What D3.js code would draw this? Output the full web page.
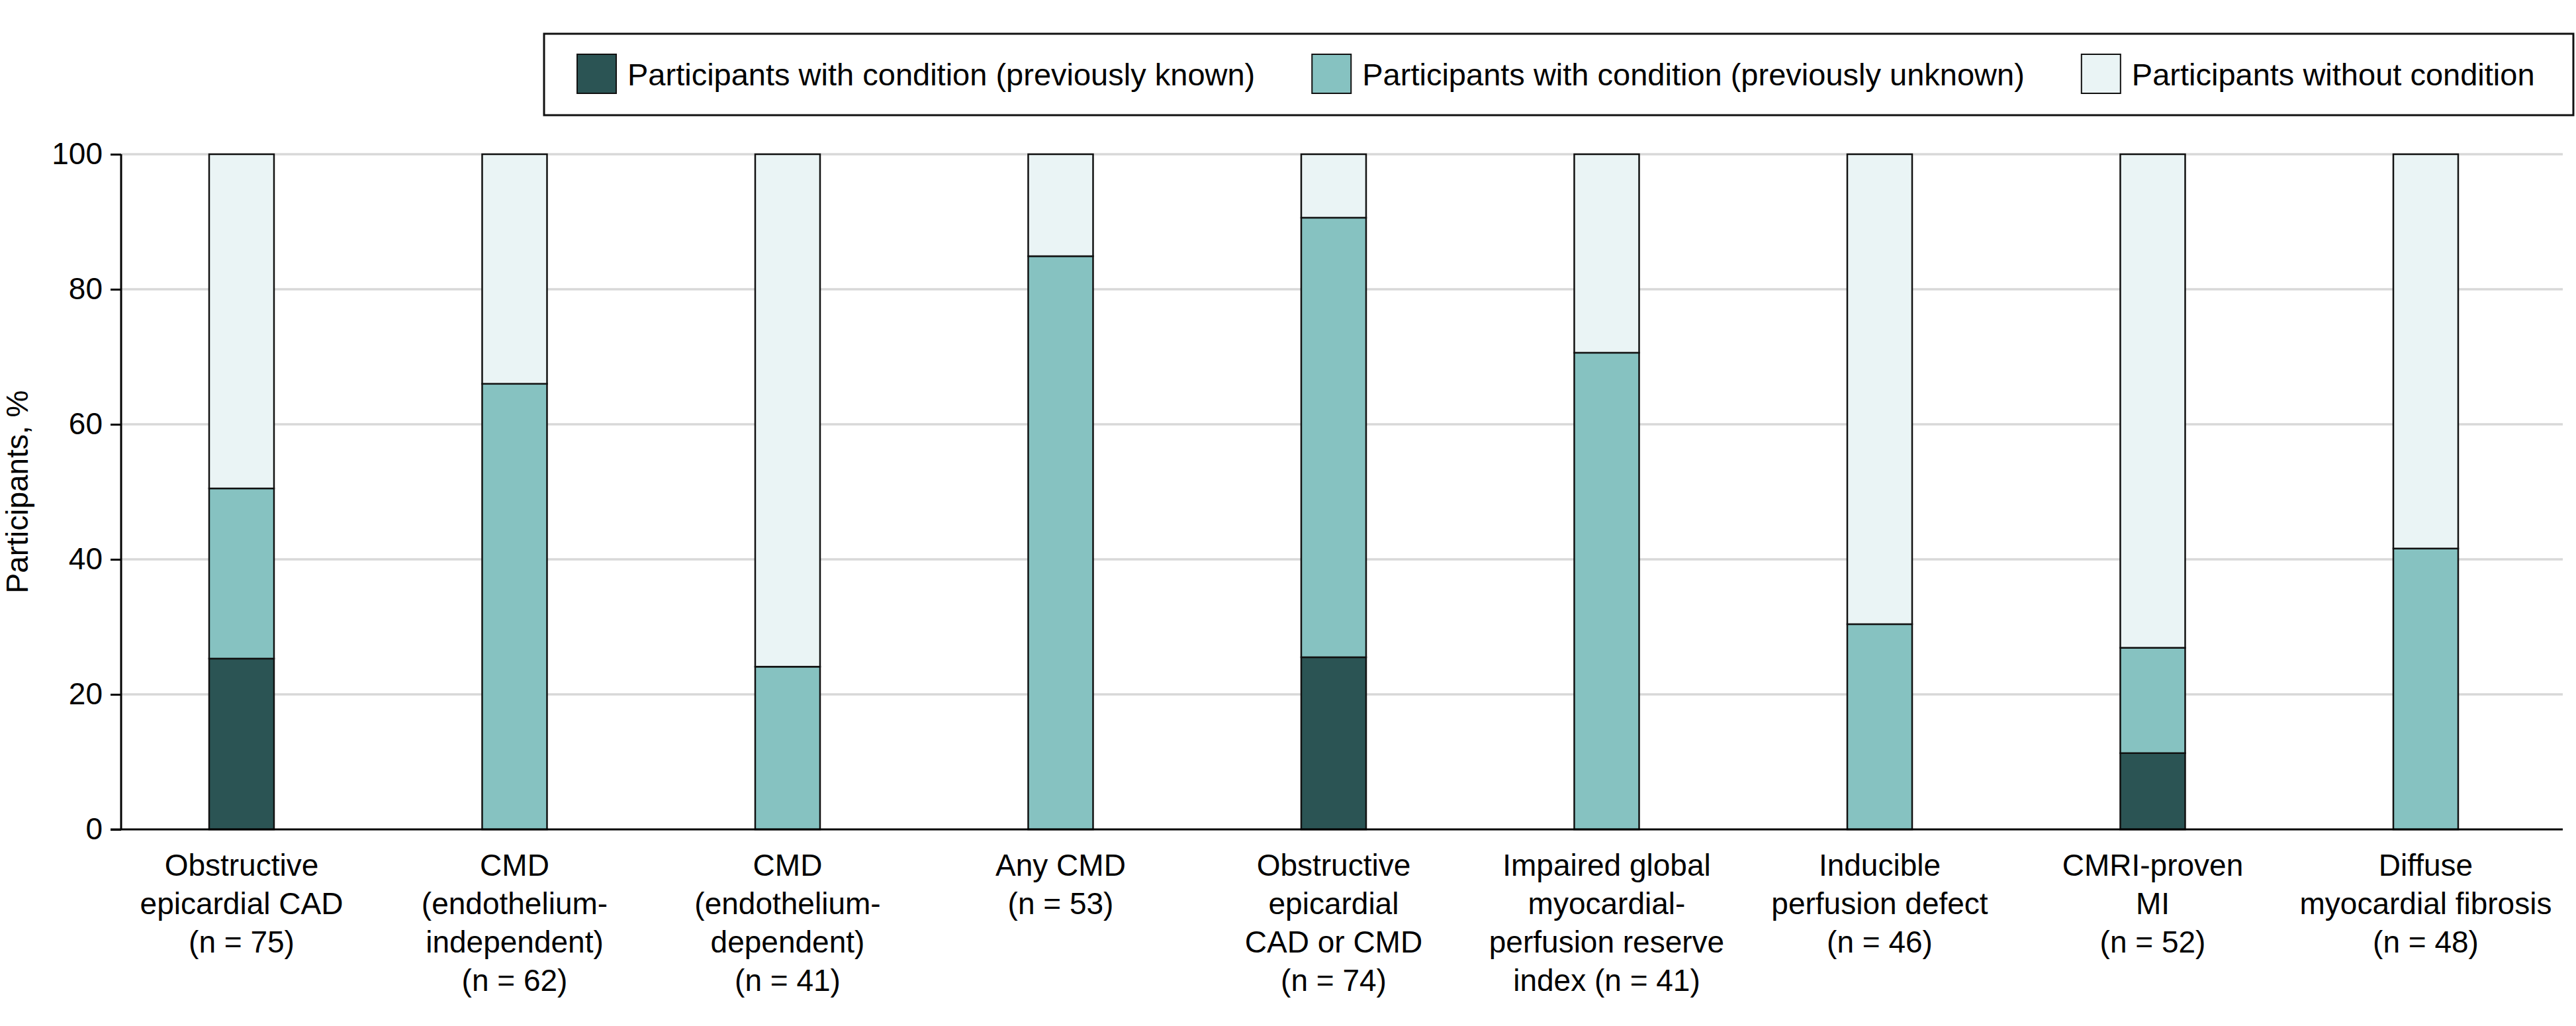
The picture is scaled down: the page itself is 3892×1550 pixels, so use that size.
<!DOCTYPE html>
<html>
<head>
<meta charset="utf-8">
<script src="https://cdn.jsdelivr.net/npm/d3@7"></script>
<style>
  html, body { margin: 0; padding: 0; background: #ffffff; }
  svg { display: block; }
  text { font-family: "Liberation Sans", Arial, sans-serif; fill: #000; }
</style>
</head>
<body>
<svg id="chart" width="3892" height="1550"></svg>
<script>
// ---------------- DATA ----------------
const categories = [
  ["Obstructive", "epicardial CAD", "(n = 75)"],
  ["CMD", "(endothelium-", "independent)", "(n = 62)"],
  ["CMD", "(endothelium-", "dependent)", "(n = 41)"],
  ["Any CMD", "(n = 53)"],
  ["Obstructive", "epicardial", "CAD or CMD", "(n = 74)"],
  ["Impaired global", "myocardial-", "perfusion reserve", "index (n = 41)"],
  ["Inducible", "perfusion defect", "(n = 46)"],
  ["CMRI-proven", "MI", "(n = 52)"],
  ["Diffuse", "myocardial fibrosis", "(n = 48)"]
];
const knownValues   = [25.3, 0, 0, 0, 25.5, 0, 0, 11.3, 0];
const unknownValues = [25.2, 66.0, 24.1, 84.9, 65.1, 70.6, 30.4, 15.6, 41.6];
const withoutValues = [49.5, 34.0, 75.9, 15.1, 9.4, 29.4, 69.6, 73.1, 58.4];
const seriesNames = [
  "Participants with condition (previously known)",
  "Participants with condition (previously unknown)",
  "Participants without condition"
];
const seriesColors = ["#2b5454", "#86c2c1", "#eaf4f5"];
const yTicks = [0, 20, 40, 60, 80, 100];
const yLabel = "Participants, %";

// ---------------- LAYOUT ----------------
const svg = d3.select("#chart");
const plotLeft = 183, plotRight = 3872, plotTop = 233, plotBottom = 1253;
const fontSize = 46;

const ids = categories.map((c, i) => "c" + i);
const x = d3.scaleBand()
  .domain(ids)
  .range([plotLeft, plotRight])
  .paddingInner(0.7624)
  .paddingOuter(0.3527)
  .align(0.457);
const y = d3.scaleLinear().domain([0, 100]).range([plotBottom, plotTop]);

// gridlines
svg.append("g")
  .selectAll("line")
  .data(yTicks.filter(t => t > 0))
  .join("line")
  .attr("x1", plotLeft).attr("x2", plotRight)
  .attr("y1", d => y(d)).attr("y2", d => y(d))
  .attr("stroke", "#d8d8d8")
  .attr("stroke-width", 3.5);

// stacked data
const rows = ids.map((id, i) => ({
  id, known: knownValues[i], unknown: unknownValues[i], without: withoutValues[i]
}));
const keys = ["known", "unknown", "without"];
const stacked = d3.stack().keys(keys)(rows);

const gBars = svg.append("g");
stacked.forEach((layer, li) => {
  gBars.append("g")
    .selectAll("rect")
    .data(layer.filter(d => d[1] - d[0] > 0))
    .join("rect")
    .attr("x", d => x(d.data.id))
    .attr("width", x.bandwidth())
    .attr("y", d => y(d[1]))
    .attr("height", d => y(d[0]) - y(d[1]))
    .attr("fill", seriesColors[li])
    .attr("stroke", "#111")
    .attr("stroke-width", 2.5);
});

// y axis
const yAxis = d3.axisLeft(y).tickValues(yTicks).tickSize(16).tickPadding(12).tickFormat(d3.format("d"));
const gy = svg.append("g").attr("transform", `translate(${plotLeft},0)`).call(yAxis);
gy.select(".domain").attr("stroke", "#000").attr("stroke-width", 3).attr("d", `M0,${plotTop}V${plotBottom}`);
gy.selectAll(".tick line").attr("stroke", "#000").attr("stroke-width", 3);
gy.selectAll(".tick text").style("font-size", fontSize + "px").style("font-family", '"Liberation Sans", Arial, sans-serif').attr("fill", "#000");

// baseline
svg.append("line")
  .attr("x1", plotLeft - 16).attr("x2", plotRight)
  .attr("y1", y(0)).attr("y2", y(0))
  .attr("stroke", "#000").attr("stroke-width", 3);

// y label
svg.append("text")
  .attr("transform", `translate(42,${(plotTop + plotBottom) / 2}) rotate(-90)`)
  .attr("text-anchor", "middle")
  .style("font-size", fontSize + "px")
  .text(yLabel);

// x labels
const lineH = 58;
const gx = svg.append("g");
categories.forEach((lines, i) => {
  const cxl = x(ids[i]) + x.bandwidth() / 2;
  const t = gx.append("text")
    .attr("text-anchor", "middle")
    .style("font-size", fontSize + "px")
    .attr("x", cxl)
    .attr("y", 1323);
  lines.forEach((ln, j) => {
    t.append("tspan")
      .attr("x", cxl)
      .attr("y", 1323 + j * lineH)
      .text(ln);
  });
});

// legend
const legX = 822, legY = 51, legW = 3066, legH = 123;
svg.append("rect")
  .attr("x", legX).attr("y", legY).attr("width", legW).attr("height", legH)
  .attr("fill", "#fff").attr("stroke", "#111").attr("stroke-width", 3);
const legFont = 47;
let lx = 872;
seriesNames.forEach((name, i) => {
  svg.append("rect")
    .attr("x", lx).attr("y", 82).attr("width", 59).attr("height", 59)
    .attr("fill", seriesColors[i]).attr("stroke", "#111").attr("stroke-width", 2);
  const t = svg.append("text")
    .attr("x", lx + 59 + 17).attr("y", 129)
    .style("font-size", legFont + "px")
    .text(name);
  lx = lx + 59 + 17 + t.node().getComputedTextLength() + 86;
});
</script>
</body>
</html>
